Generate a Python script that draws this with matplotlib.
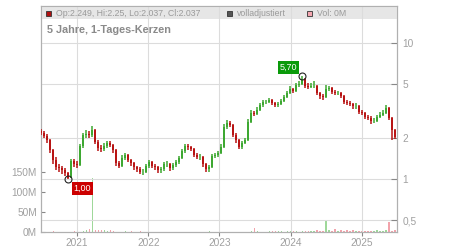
import numpy as np
import pandas as pd
import matplotlib
matplotlib.use("Agg")
import matplotlib.pyplot as plt
from matplotlib.patches import Rectangle
from matplotlib.ticker import FixedLocator, NullLocator

plt.rcParams["font.family"] = ["Liberation Sans", "DejaVu Sans"]

# half-monthly candles (EUR)
closes = [
    2.18, 2.07, 1.94, 1.63, 1.38, 1.22, 1.20, 1.16, 1.11, 1.03,
    1.36, 1.29, 1.27, 1.75, 2.11, 2.14, 2.11, 2.29, 1.87, 1.69,
    1.66, 1.75, 1.84, 1.78, 1.63, 1.31, 1.25, 1.43, 1.50, 1.38,
    1.31, 1.22, 1.18, 1.13, 1.13, 1.25, 1.33, 1.25, 1.22, 1.16,
    1.18, 1.29, 1.29, 1.20, 1.27, 1.33, 1.43, 1.61, 1.75, 1.72,
    1.66, 1.50, 1.45, 1.45, 1.29, 1.18, 1.22, 1.48, 1.50, 1.55,
    1.72, 2.41, 2.58, 2.49, 2.11, 1.94, 1.72, 1.84, 1.94, 2.62,
    3.06, 3.01, 3.22, 3.50, 3.68, 3.68, 3.81, 3.62, 3.50, 3.56,
    3.75, 4.01, 4.29, 4.59, 4.44, 4.91, 5.00, 5.43, 4.83, 4.75,
    4.83, 4.83, 4.29, 4.08, 4.01, 4.59, 4.67, 4.36, 4.29, 4.29,
    4.08, 3.68, 3.62, 3.56, 3.44, 3.44, 3.11, 3.06, 2.86, 2.81,
    2.67, 2.67, 2.86, 2.96, 3.06, 3.33, 2.81, 2.29, 2.04,
]
highs = [
    2.32, 2.26, 2.14, 1.98, 1.66, 1.45, 1.30, 1.25, 1.20, 1.14,
    1.42, 1.40, 1.36, 1.82, 2.20, 2.30, 2.25, 2.45, 2.35, 1.95,
    1.78, 1.85, 1.92, 1.90, 1.82, 1.66, 1.36, 1.50, 1.56, 1.54,
    1.42, 1.34, 1.26, 1.22, 1.18, 1.30, 1.38, 1.36, 1.29, 1.25,
    1.23, 1.34, 1.35, 1.32, 1.31, 1.38, 1.48, 1.66, 1.82, 1.80,
    1.76, 1.70, 1.55, 1.52, 1.48, 1.32, 1.28, 1.54, 1.57, 1.62,
    1.80, 2.55, 2.70, 2.66, 2.55, 2.18, 1.98, 1.90, 2.02, 2.75,
    3.20, 3.18, 3.40, 3.65, 3.85, 3.82, 3.98, 3.90, 3.70, 3.68,
    3.90, 4.15, 4.45, 4.80, 4.70, 5.10, 5.25, 5.70, 5.50, 5.05,
    5.10, 5.25, 4.95, 4.40, 4.25, 4.95, 4.85, 4.75, 4.50, 4.45,
    4.40, 4.15, 3.80, 3.75, 3.65, 3.60, 3.50, 3.25, 3.12, 2.98,
    2.90, 2.80, 2.98, 3.10, 3.20, 3.50, 3.40, 2.85, 2.35,
]
lows = [
    2.10, 2.00, 1.86, 1.55, 1.30, 1.17, 1.14, 1.10, 1.05, 1.00,
    1.02, 1.22, 1.20, 1.25, 1.70, 2.00, 2.00, 2.05, 1.80, 1.62,
    1.58, 1.60, 1.70, 1.72, 1.56, 1.26, 1.20, 1.22, 1.38, 1.33,
    1.26, 1.17, 1.13, 1.09, 1.08, 1.11, 1.21, 1.20, 1.16, 1.11,
    1.12, 1.15, 1.23, 1.15, 1.16, 1.23, 1.30, 1.40, 1.57, 1.65,
    1.60, 1.45, 1.40, 1.38, 1.24, 1.13, 1.14, 1.20, 1.43, 1.46,
    1.52, 1.70, 2.35, 2.40, 2.04, 1.86, 1.66, 1.68, 1.80, 1.90,
    2.58, 2.90, 2.95, 3.15, 3.42, 3.55, 3.60, 3.52, 3.40, 3.42,
    3.50, 3.68, 3.95, 4.20, 4.30, 4.38, 4.75, 4.95, 4.70, 4.60,
    4.65, 4.65, 4.15, 3.90, 3.85, 3.95, 4.45, 4.20, 4.15, 4.15,
    3.95, 3.55, 3.50, 3.45, 3.30, 3.30, 3.00, 2.95, 2.75, 2.70,
    2.55, 2.58, 2.62, 2.80, 2.90, 3.00, 2.70, 1.95, 1.98,
]
first_open = 2.25

# volume in millions, same periods
volumes = [
    0, 0, 0, 0, 3, 0, 0, 0, 0, 0,
    0, 2, 0, 0, 2, 4, 8, 135, 6, 5,
    4, 4, 3, 5, 3, 0, 0, 0, 2, 0,
    2, 0, 0, 2, 0, 0, 0, 0, 0, 0,
    0, 0, 0, 0, 0, 0, 0, 0, 0, 0,
    0, 0, 0, 0, 0, 0, 2, 0, 0, 0,
    0, 0, 0, 0, 0, 0, 0, 0, 0, 0,
    3, 10, 2, 0, 0, 0, 2, 3, 2, 3,
    2, 0, 2, 3, 2, 3, 0, 3, 2, 3,
    2, 3, 4, 2, 3, 28, 4, 3, 7, 3,
    4, 3, 4, 3, 4, 2, 3, 3, 2, 3,
    2, 3, 4, 2, 3, 4, 26, 3, 4,
]

start_date = "2020-07-01"
end_date = "2025-06-20"
years = [2021, 2022, 2023, 2024, 2025]
price_ticks = [0.5, 1, 2, 5, 10]
price_labels = ["0,5", "1", "2", "5", "10"]
vol_ticks = [0, 50, 100, 150]
vol_labels = ["0M", "50M", "100M", "150M"]

high_idx, high_val, high_text = 87, 5.70, "5,70"
low_idx, low_val, low_text = 9, 1.00, "1,00"

title = "5 Jahre, 1-Tages-Kerzen"
header_items = [
    ("Op:2.249, Hi:2.25, Lo:2.037, Cl:2.037", "#b01010", 0.0),
    ("volladjustiert", "#555555", 0.508),
    ("Vol: 0M", "#f4a6b0", 0.733),
]

UP = "#3ea832"
DOWN = "#b81414"
VOL_UP = "#9fd89a"
VOL_DOWN = "#f2a3ab"
GRID = "#dcdcdc"
SPINE = "#b0b0b0"
LABEL = "#a0a0a0"

dates = pd.date_range(start_date, end_date, periods=len(closes))
opens = [first_open] + closes[:-1]
rising = [c >= o for o, c in zip(opens, closes)]
candle_colors = [UP if r else DOWN for r in rising]

fig = plt.figure(figsize=(4.5, 2.5), dpi=100)
ax_vol = fig.add_axes([41 / 450, 18 / 250, 356 / 450, 226 / 250])
ax = ax_vol.twinx()

# volume
ax_vol.bar(dates, volumes, width=6, color=[VOL_UP if r else VOL_DOWN for r in rising], zorder=2)
ax_vol.set_ylim(0, 565)
ax_vol.yaxis.set_major_locator(FixedLocator(vol_ticks))
ax_vol.set_yticklabels(vol_labels)

# candles
ax.vlines(dates, lows, highs, colors=candle_colors, lw=1.1, zorder=3)
heights = [c - o for o, c in zip(opens, closes)]
ax.bar(dates, heights, bottom=opens, width=13, color=candle_colors, linewidth=0, zorder=3)
ax.set_yscale("log")
ax.set_ylim(0.41, 18.7)
ax.yaxis.set_major_locator(FixedLocator(price_ticks))
ax.yaxis.set_minor_locator(NullLocator())
ax.set_yticklabels(price_labels)

year_dates = [pd.Timestamp(f"{y}-01-01") for y in years]
ax.set_xlim(pd.Timestamp("2020-06-30"), pd.Timestamp("2025-06-30"))
ax_vol.set_xticks(year_dates)
ax_vol.set_xticklabels([str(y) for y in years])

for d in year_dates:
    ax.axvline(d, color=GRID, lw=0.8, zorder=0.5)
for t in price_ticks:
    ax.axhline(t, color=GRID, lw=0.8, zorder=0.5)

for a in (ax, ax_vol):
    for s in a.spines.values():
        s.set_color(SPINE)
        s.set_linewidth(0.8)
ax_vol.tick_params(axis="y", direction="in", length=3, color="#888888", labelcolor=LABEL, labelsize=7.3, pad=3)
ax_vol.tick_params(axis="x", direction="out", length=3, color="#888888", labelcolor=LABEL, labelsize=7.3, pad=1)
ax.tick_params(axis="y", direction="in", length=4, color="#888888", labelcolor=LABEL, labelsize=7.3, pad=4)

# header band
ax.add_patch(Rectangle((0, 1 - 13 / 226), 1, 13 / 226, transform=ax.transAxes,
                       facecolor="#e6e6e6", edgecolor="none", zorder=0.4))
for text, color, xpos in header_items:
    ax.add_patch(Rectangle((xpos + 5 / 356, 1 - 10 / 226), 5 / 356, 5 / 226, transform=ax.transAxes,
                           facecolor=color, edgecolor="#333333", linewidth=0.6, zorder=4))
    ax.text(xpos + 15 / 356, 1 - 7.5 / 226, text, transform=ax.transAxes, fontsize=6.3,
            color="#9a9a9a", va="center", ha="left", zorder=4)
ax.text(6 / 356, 1 - 24 / 226, title, transform=ax.transAxes, fontsize=7.8,
        fontweight="bold", color="#8a8a8a", va="center", ha="left", zorder=4)

# high / low markers
for idx, val, text, color, off in [
    (high_idx, high_val, high_text, "#0a9a0a", (-10, 6.5)),
    (low_idx, low_val, low_text, "#cc0000", (10, -6.5)),
]:
    ax.plot(dates[idx], val, marker="o", ms=5, mfc="none", mec="#222222", mew=0.8, zorder=5)
    ax.annotate(text, (dates[idx], val), xytext=off, textcoords="offset points",
                ha="center", va="center", fontsize=6.5, color="white", zorder=6,
                bbox=dict(boxstyle="square,pad=0.2", fc=color, ec="none"))

fig.savefig("out.png", dpi=100)
